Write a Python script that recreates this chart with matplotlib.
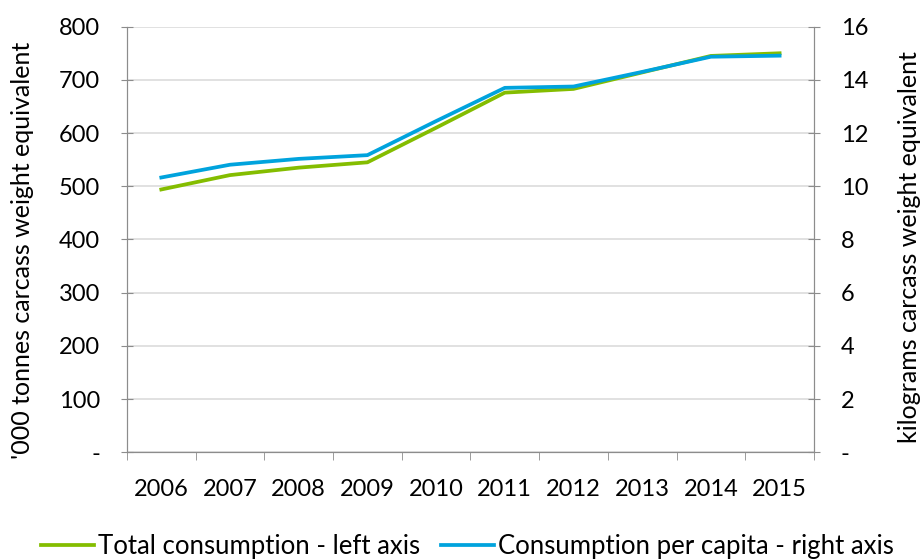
import numpy as np
import matplotlib
matplotlib.use('Agg')
from matplotlib import pyplot as plt
from matplotlib.ticker import FixedLocator, FuncFormatter

years = ['2006', '2007', '2008', '2009', '2010', '2011', '2012', '2013', '2014', '2015']
total = [494, 521, 535, 545, 610, 676, 683, 714, 745, 750]
per_capita = [10.33, 10.81, 11.03, 11.17, 12.45, 13.70, 13.75, 14.30, 14.87, 14.91]

green = '#84BD00'
blue = '#00A3DD'
grey = '#8c8c8c'

plt.rcParams['font.family'] = ['Lato', 'DejaVu Sans']
plt.rcParams['font.size'] = 17

fig = plt.figure(figsize=(9.22, 5.59), dpi=100)
ax = fig.add_axes([0.1377, 0.1909, 0.7451, 0.7614])
ax2 = ax.twinx()

x = np.arange(len(years))
l1, = ax.plot(x, total, color=green, lw=2.7, label='Total consumption - left axis')
l2, = ax2.plot(x, per_capita, color=blue, lw=2.7, label='Consumption per capita - right axis')

ax.set_xlim(-0.5, len(years) - 0.5)
ax.set_ylim(0, 800)
ax2.set_ylim(0, 16)
ax.set_yticks(range(0, 801, 100))
ax2.set_yticks(range(0, 17, 2))
dash_zero = FuncFormatter(lambda v, p: '-' if v == 0 else f'{v:.0f}')
ax.yaxis.set_major_formatter(dash_zero)
ax2.yaxis.set_major_formatter(dash_zero)

ax.set_xticks(x)
ax.set_xticklabels(years)
ax.tick_params(axis='x', which='major', length=0, pad=19)
ax.xaxis.set_minor_locator(FixedLocator(np.arange(-0.5, len(years), 1)))
ax.tick_params(axis='x', which='minor', length=6, color=grey, direction='out')
ax.tick_params(axis='y', length=8.6, direction='inout', color=grey, pad=15)
ax2.tick_params(axis='y', length=8.6, direction='inout', color=grey, pad=15)

ax.grid(axis='y', color='#d9d9d9', lw=1.1)
ax.set_axisbelow(True)
for a in (ax, ax2):
    a.spines['top'].set_visible(False)
    for s in ('left', 'right', 'bottom'):
        a.spines[s].set_color(grey)

ax.set_ylabel("'000 tonnes carcass weight equivalent", fontsize=18)
ax2.set_ylabel('kilograms carcass weight equivalent', fontsize=18)
ax.yaxis.set_label_coords(-0.1354, 0.475)
ax2.yaxis.set_label_coords(1.1223, 0.482)

fig.legend(handles=[l1, l2], loc='center', bbox_to_anchor=(0.507, 0.023), ncol=2,
           frameon=False, fontsize=18.5, handlelength=2.06, handletextpad=0.16,
           columnspacing=0.82, borderpad=0, borderaxespad=0)

fig.savefig('out.png', dpi=100)
